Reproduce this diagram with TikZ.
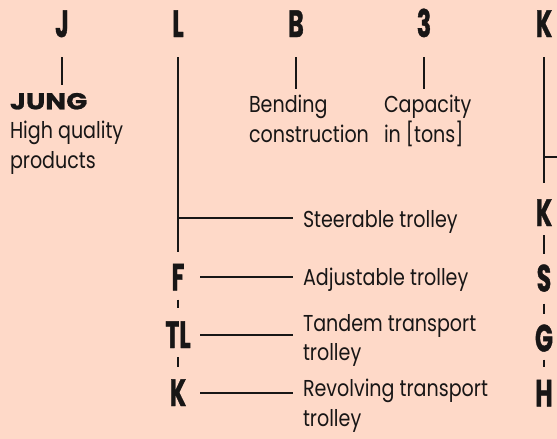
\documentclass[tikz,border=0pt]{standalone}
\usepackage{fontspec}
\setmainfont{Poppins}[FakeStretch=0.83]
\newfontfamily\codefont{Poppins}[FakeStretch=0.62,FakeBold=1]
\newfontfamily\heavyfont{Poppins}[FakeStretch=1.2,FakeBold=1]
\definecolor{peach}{RGB}{254,217,200}
\definecolor{ink}{RGB}{24,22,22}
\tikzset{
	code/.style={font=\codefont\bfseries\fontsize{38}{38}\selectfont,inner sep=0pt,text height=27pt,text depth=0pt},
	txt/.style={font=\fontsize{23}{29.5}\selectfont,inner sep=0pt,align=left},
	gap/.style 2 args={shorten <=#1,shorten >=#2}
}
\begin{document}
\begin{tikzpicture}[x=1pt,y=-1pt,line width=2pt,ink]
	\fill[peach] (0,0) rectangle (557,439);
	\useasboundingbox (0,0) rectangle (557,439);
	% code letters
	\node[code] (J) at (62,23.5) {J};
	\node[code] (L) at (178,23.5) {L};
	\node[code] (B) at (296,23.5) {B};
	\node[code] (three) at (424,23.5) {3};
	\node[code] (K) at (544,23.5) {K};
	% explanations
	\node[txt,anchor=north west] (jung) at (9,92) {{\heavyfont\bfseries JUNG}\\High quality\\products};
	\node[txt,anchor=north west] (bend) at (248,94) {Bending\\construction};
	\node[txt,anchor=north west] (cap) at (383,94) {Capacity\\in [tons]};
	\draw[gap={19pt}{7pt}] (J.south) -- (J.south |- jung.north);
	\draw[gap={19pt}{5pt}] (B.south) -- (B.south |- bend.north);
	\draw[gap={19pt}{5pt}] (three.south) -- (three.south |- cap.north);
	% trolley types
	\node[code] (F) at (178,277) {F};
	\node[code] (TL) at (178,334.5) {TL};
	\node[code] (K3) at (178,392.5) {K};
	\node[txt,anchor=base west] (steer) at (302,227) {Steerable trolley};
	\node[txt,anchor=base west] (adj) at (302,285) {Adjustable trolley};
	\node[txt,anchor=north west] (tandem) at (302,313) {Tandem transport\\trolley};
	\node[txt,anchor=north west] (rev) at (302,378) {Revolving transport\\trolley};
	\draw[gap={19pt}{11pt}] (L.south) -- (F.north);
	\draw[gap={8pt}{12pt}] (F.south) -- (TL.north);
	\draw[gap={8pt}{11pt}] (TL.south) -- (K3.north);
	\coordinate (lb) at (178,218);
	\draw[gap={0pt}{9pt}] (lb) -- (lb -| steer.west);
	\foreach \c/\t in {F/adj,TL/tandem,K3/rev}
		\draw[gap={22pt}{9pt}] (\c.center) -- (\c.center -| \t.west);
	% right column
	\node[code] (K2) at (544,212.5) {K};
	\node[code] (S) at (544,278) {S};
	\node[code] (G) at (544,338) {G};
	\node[code] (H) at (544,393) {H};
	\draw[gap={19pt}{15pt}] (K.south) -- (K2.north);
	\draw[gap={8pt}{10pt}] (K2.south) -- (S.north);
	\draw[gap={11pt}{10pt}] (S.south) -- (G.north);
	\draw[gap={7pt}{12pt}] (G.south) -- (H.north);
	\coordinate (kb) at (544,157);
	\coordinate (kout) at (560,157);
	\draw (kb) -- (kout);
\end{tikzpicture}
\end{document}
